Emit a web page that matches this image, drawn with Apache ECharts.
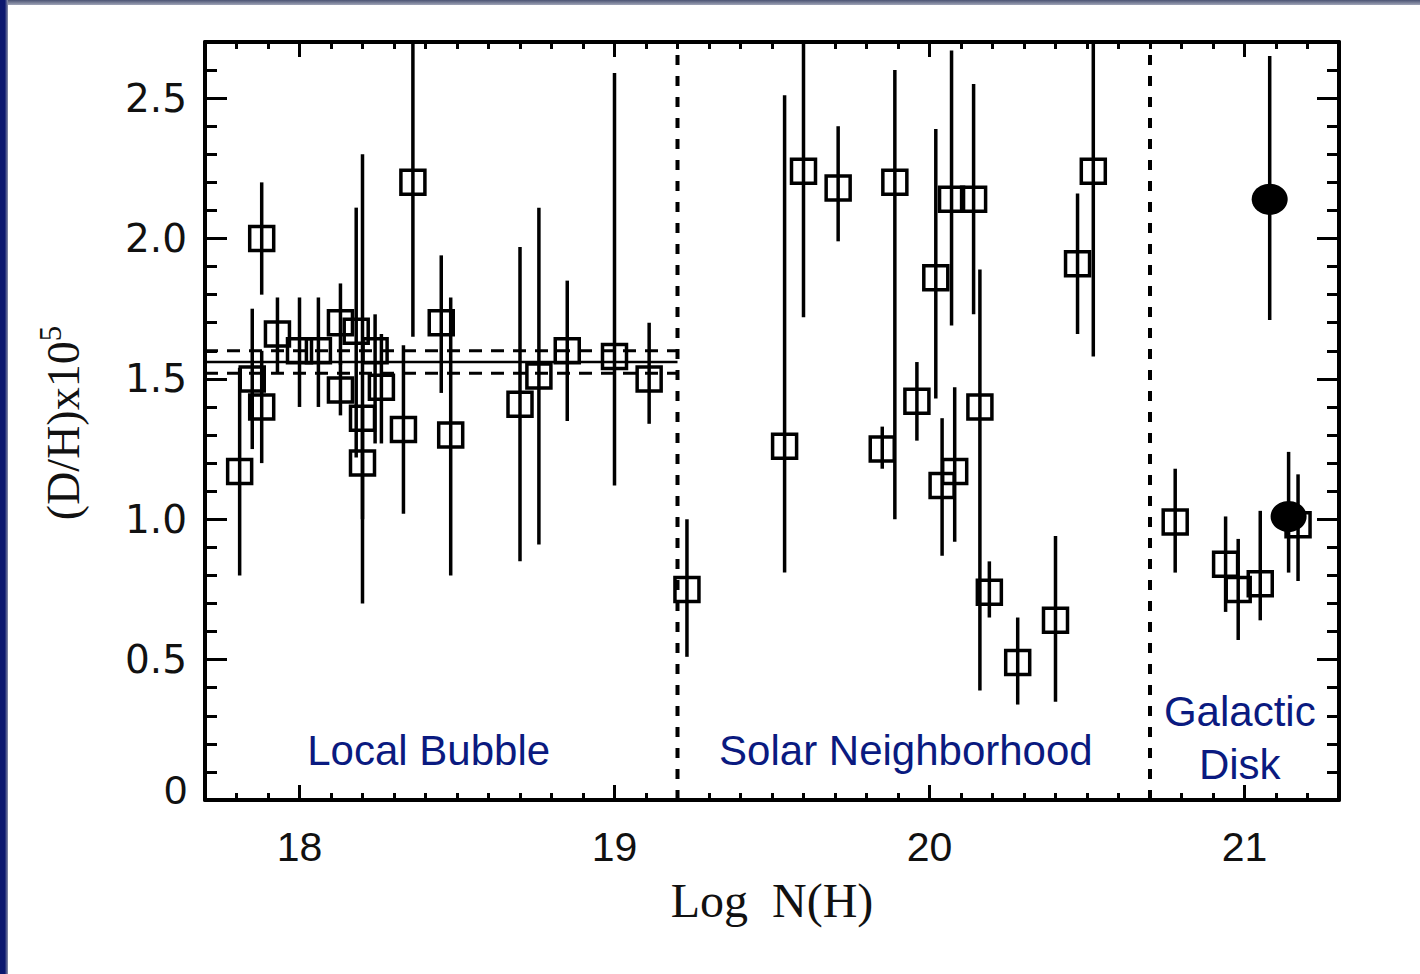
<!DOCTYPE html>
<html>
<head>
<meta charset="utf-8">
<title>D/H versus log N(H)</title>
<script src="https://cdn.jsdelivr.net/npm/echarts@6/dist/echarts.min.js"></script>
<style>
  html, body { margin: 0; padding: 0; background: #fff; }
  #chart { position: absolute; left: 0; top: 0; width: 1420px; height: 974px; }
  .edge-top { position: absolute; left: 0; top: 0; width: 1420px; height: 5px;
              background: linear-gradient(#4b5373, #a0a5b8); z-index: 2; }
  .edge-left { position: absolute; left: 0; top: 0; width: 8px; height: 974px;
               background: linear-gradient(to right, #0b176e 0, #0b176e 60%, #8d93a9 100%); z-index: 3; }
</style>
</head>
<body>
<div id="chart"></div>
<div class="edge-top"></div>
<div class="edge-left"></div>
<script>
// Sightlines: [log N(H), D/H x 1e5, lower error, upper error]
const localBubble = [
  [17.81, 1.17, 0.80, 1.54],
  [17.85, 1.50, 1.25, 1.75],
  [17.88, 1.40, 1.20, 1.60],
  [17.88, 2.00, 1.80, 2.20],
  [17.93, 1.66, 1.52, 1.79],
  [18.00, 1.60, 1.40, 1.79],
  [18.06, 1.60, 1.40, 1.79],
  [18.13, 1.70, 1.55, 1.84],
  [18.13, 1.46, 1.37, 1.56],
  [18.18, 1.67, 1.22, 2.11],
  [18.20, 1.36, 0.70, 2.30],
  [18.20, 1.20, 1.00, 1.40],
  [18.24, 1.60, 1.27, 1.73],
  [18.26, 1.47, 1.27, 1.66],
  [18.33, 1.32, 1.02, 1.62],
  [18.36, 2.20, 1.65, 2.80],
  [18.45, 1.70, 1.45, 1.94],
  [18.48, 1.30, 0.80, 1.79],
  [18.70, 1.41, 0.85, 1.97],
  [18.76, 1.51, 0.91, 2.11],
  [18.85, 1.60, 1.35, 1.85],
  [19.00, 1.58, 1.12, 2.59],
  [19.11, 1.50, 1.34, 1.70]
];
const solarNeighborhood = [
  [19.23, 0.75, 0.51, 1.00],
  [19.54, 1.26, 0.81, 2.51],
  [19.60, 2.24, 1.72, 2.80],
  [19.71, 2.18, 1.99, 2.40],
  [19.85, 1.25, 1.18, 1.33],
  [19.89, 2.20, 1.00, 2.60],
  [19.96, 1.42, 1.28, 1.56],
  [20.02, 1.86, 1.43, 2.39],
  [20.04, 1.12, 0.87, 1.36],
  [20.07, 2.14, 1.69, 2.67],
  [20.08, 1.17, 0.92, 1.47],
  [20.14, 2.14, 1.73, 2.55],
  [20.16, 1.40, 0.39, 1.89],
  [20.19, 0.74, 0.65, 0.85],
  [20.28, 0.49, 0.34, 0.65],
  [20.40, 0.64, 0.35, 0.94],
  [20.47, 1.91, 1.66, 2.16],
  [20.52, 2.24, 1.58, 2.80]
];
const galacticDisk = [
  [20.78, 0.99, 0.81, 1.18],
  [20.94, 0.84, 0.67, 1.01],
  [20.98, 0.75, 0.57, 0.93],
  [21.05, 0.77, 0.64, 1.03],
  [21.17, 0.98, 0.78, 1.16]
];
const galacticDiskFilled = [
  [21.08, 2.14, 1.71, 2.65],
  [21.14, 1.01, 0.81, 1.24]
];

// Local Bubble mean D/H and its 1-sigma band
const lbMean = 1.56;
const lbBand = [1.52, 1.60];
const lbSpan = [17.7, 19.2];
const regionBounds = [19.2, 20.7];
const regionNames = ['Local Bubble', 'Solar Neighborhood', 'Galactic\nDisk'];

const xTickLabels = [18, 19, 20, 21];
const yTickLabels = [0, 0.5, 1.0, 1.5, 2.0, 2.5];

const X_MIN = 17.7, X_MAX = 21.3, Y_MIN = 0, Y_MAX = 2.7;

function minorTicks(lo, hi, step, majors) {
  const out = [];
  const n = Math.round((hi - lo) / step);
  for (let i = 1; i < n; i++) {
    const v = +(lo + i * step).toFixed(3);
    if (!majors.some(m => Math.abs(m - v) < 1e-6)) out.push(v);
  }
  return out;
}
const xMinor = minorTicks(X_MIN, X_MAX, 0.1, xTickLabels);
const yMinor = minorTicks(Y_MIN, Y_MAX, 0.1, yTickLabels);

const INK = '#000';
const TEXT = '#111';
const NAVY = '#0a1a80';

function frameAxis(kind, position, ticks, tickLen, drawLine, extra) {
  const base = {
    type: 'value',
    min: kind === 'x' ? X_MIN : Y_MIN,
    max: kind === 'x' ? X_MAX : Y_MAX,
    position: position,
    axisLine: { show: drawLine, onZero: false, lineStyle: { color: INK, width: 4 } },
    axisTick: { show: true, inside: true, length: tickLen, customValues: ticks,
                lineStyle: { color: INK, width: 3 } },
    axisLabel: { show: false },
    splitLine: { show: false },
    minorTick: { show: false },
    axisPointer: { show: false }
  };
  return Object.assign(base, extra || {});
}

const chart = echarts.init(document.getElementById('chart'), null, { renderer: 'svg' });

const squares = [...localBubble, ...solarNeighborhood, ...galacticDisk];
const bars = [...localBubble, ...solarNeighborhood, ...galacticDisk, ...galacticDiskFilled];

chart.setOption({
  backgroundColor: '#fff',
  animation: false,
  grid: { left: 205, right: 81, top: 42, bottom: 174, containLabel: false, outerBoundsMode: 'none' },
  xAxis: [
    frameAxis('x', 'bottom', xTickLabels, 15, true, {
      axisLabel: { show: true, customValues: xTickLabels, margin: 26,
                   fontFamily: 'Liberation Sans', fontSize: 41, color: TEXT },
      name: 'Log  N(H)', nameLocation: 'middle', nameGap: 76,
      nameTextStyle: { fontFamily: 'Liberation Serif', fontSize: 48, color: TEXT }
    }),
    frameAxis('x', 'bottom', xMinor, 7, false),
    frameAxis('x', 'top', xTickLabels, 15, true),
    frameAxis('x', 'top', xMinor, 7, false)
  ],
  yAxis: [
    frameAxis('y', 'left', yTickLabels, 22, true, {
      axisLabel: { show: true, customValues: yTickLabels, margin: 18,
                   formatter: v => (v === 0 ? '{z|0}' : v.toFixed(1)),
                   fontFamily: 'DejaVu Sans', fontSize: 39, color: TEXT,
                   rich: { z: { fontFamily: 'Liberation Sans', fontSize: 41, color: TEXT,
                                padding: [0, 0, 20, 0] } } }
    }),
    frameAxis('y', 'left', yMinor, 12, false),
    frameAxis('y', 'right', yTickLabels, 22, true),
    frameAxis('y', 'right', yMinor, 12, false)
  ],
  graphic: [{
    type: 'text',
    x: 63, y: 423,
    rotation: Math.PI / 2,
    silent: true,
    style: {
      text: '{m|(D/H)x10}{s|5}',
      align: 'center', verticalAlign: 'middle',
      textAlign: 'center', textVerticalAlign: 'middle',
      fill: TEXT,
      rich: {
        m: { fontFamily: 'Liberation Serif', fontSize: 46, lineHeight: 56, fill: TEXT },
        s: { fontFamily: 'Liberation Serif', fontSize: 31, lineHeight: 26, verticalAlign: 'top', fill: TEXT }
      }
    }
  }],
  series: [
    {
      // region dividers
      type: 'line', silent: true, symbol: 'none', z: 1,
      data: [[regionBounds[0], Y_MIN], [regionBounds[0], Y_MAX]],
      lineStyle: { color: INK, width: 4, type: [10, 11], opacity: 1 }
    },
    {
      type: 'line', silent: true, symbol: 'none', z: 1,
      data: [[regionBounds[1], Y_MIN], [regionBounds[1], Y_MAX]],
      lineStyle: { color: INK, width: 4, type: [10, 11], opacity: 1 }
    },
    {
      // Local Bubble mean
      type: 'line', silent: true, symbol: 'none', z: 1,
      data: [[lbSpan[0], lbMean], [lbSpan[1], lbMean]],
      lineStyle: { color: INK, width: 2.5, opacity: 1 }
    },
    {
      type: 'line', silent: true, symbol: 'none', z: 1,
      data: [[lbSpan[0], lbBand[1]], [lbSpan[1], lbBand[1]]],
      lineStyle: { color: INK, width: 3, type: [13, 9], opacity: 1 }
    },
    {
      type: 'line', silent: true, symbol: 'none', z: 1,
      data: [[lbSpan[0], lbBand[0]], [lbSpan[1], lbBand[0]]],
      lineStyle: { color: INK, width: 3, type: [13, 9], opacity: 1 }
    },
    {
      // vertical error bars
      type: 'custom', silent: true, clip: true, z: 2,
      data: bars.map(r => [r[0], r[2], r[3]]),
      encode: { x: 0, y: [1, 2] },
      renderItem: function (params, api) {
        const x = api.value(0);
        const lo = Math.max(api.value(1), Y_MIN);
        const hi = Math.min(api.value(2), Y_MAX);
        const p0 = api.coord([x, lo]);
        const p1 = api.coord([x, hi]);
        return {
          type: 'line',
          shape: { x1: p0[0], y1: p0[1], x2: p1[0], y2: p1[1] },
          style: { stroke: INK, lineWidth: 3.5 }
        };
      }
    },
    {
      type: 'scatter', silent: true, z: 3,
      symbol: 'rect', symbolSize: 24,
      data: squares.map(r => [r[0], r[1]]),
      itemStyle: { color: 'rgba(255,255,255,0)', borderColor: INK, borderWidth: 3.5, opacity: 1 },
      emphasis: { disabled: true }
    },
    {
      type: 'scatter', silent: true, z: 3,
      symbol: 'circle', symbolSize: [36, 31],
      data: galacticDiskFilled.map(r => [r[0], r[1]]),
      itemStyle: { color: INK, opacity: 1 },
      emphasis: { disabled: true }
    },
    {
      // region captions
      type: 'scatter', silent: true, z: 4,
      symbolSize: 1,
      itemStyle: { color: 'rgba(0,0,0,0)', opacity: 1 },
      data: [
        { name: regionNames[0], value: [18.41, 0.175] },
        { name: regionNames[1], value: [19.925, 0.175] },
        { name: regionNames[2], value: [20.985, 0.22] }
      ],
      label: {
        show: true, position: 'inside', formatter: '{b}',
        fontFamily: 'Liberation Sans', fontSize: 42, lineHeight: 53,
        color: NAVY, opacity: 1, align: 'center', verticalAlign: 'middle'
      },
      emphasis: { disabled: true }
    }
  ]
});
</script>
</body>
</html>
